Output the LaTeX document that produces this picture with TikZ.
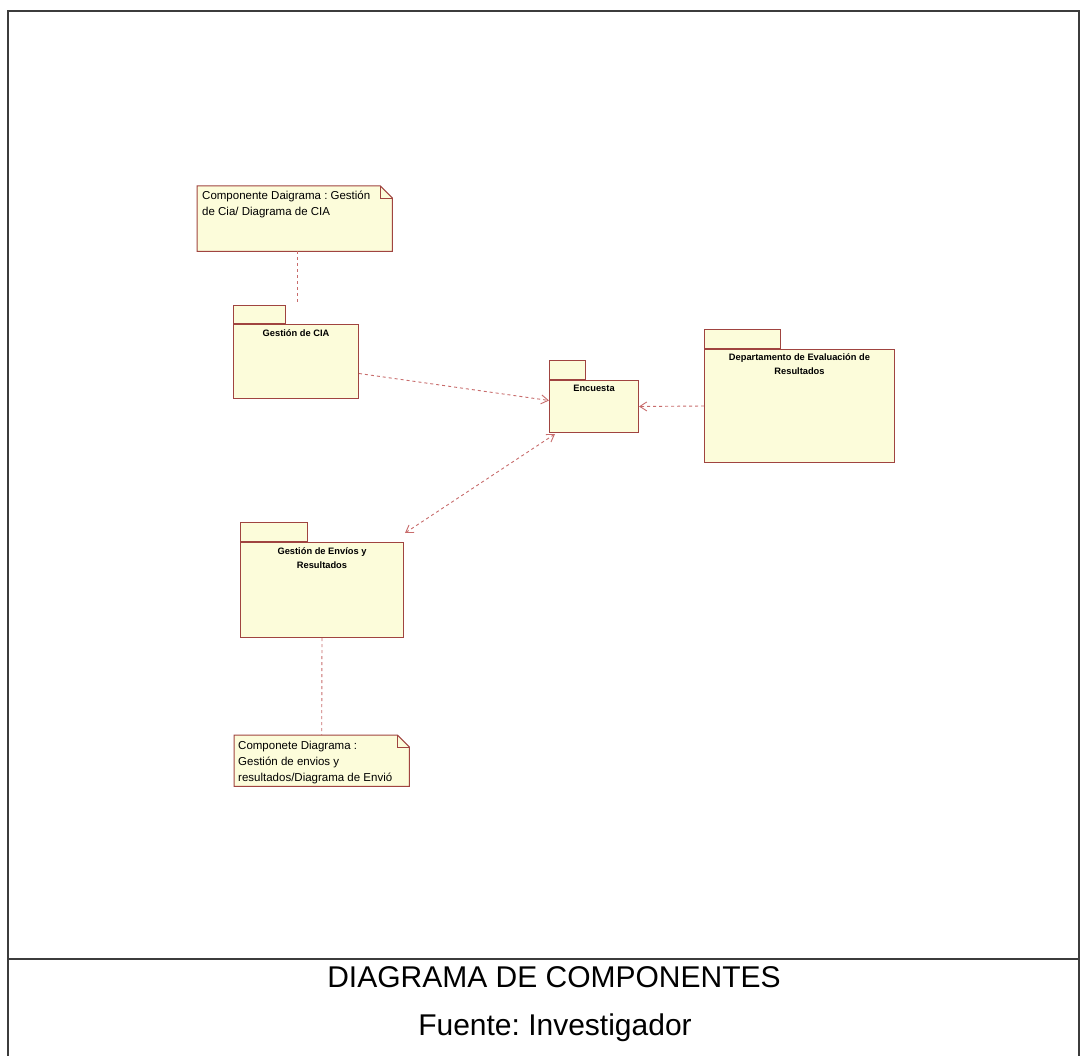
\documentclass[tikz,border=0pt]{standalone}
\usepackage{fontspec}
\setmainfont{Liberation Sans}
\usetikzlibrary{arrows.meta,calc}
\frenchspacing

\definecolor{boxline}{RGB}{160,68,64}
\definecolor{boxfill}{RGB}{252,252,218}
\definecolor{depline}{RGB}{200,108,108}
\definecolor{frameline}{RGB}{60,60,60}

\tikzset{
  pkgbody/.style={draw=boxline, fill=boxfill, line width=1pt, inner sep=0pt, anchor=north west},
  pkgtab/.style={draw=boxline, fill=boxfill, line width=1pt, inner sep=0pt, anchor=south west},
  pkglabel/.style={anchor=north, align=center, font=\fontsize{9.3}{14}\selectfont\bfseries, inner sep=0pt},
  notebox/.style={inner sep=0pt, anchor=north west},
  notetext/.style={anchor=north west, align=left, font=\fontsize{11.5}{16}\selectfont, inner sep=0pt},
  noteshape/.style={draw=boxline, fill=boxfill, line width=1pt},
  anchorline/.style={draw=depline, line width=0.9pt, dash pattern=on 3pt off 3pt},
  dependency/.style={draw=depline, line width=0.9pt, dash pattern=on 3pt off 3pt,
    -{Straight Barb[length=7pt,width=9pt]}},
  bidependency/.style={draw=depline, line width=0.9pt, dash pattern=on 3pt off 3pt,
    {Straight Barb[length=7pt,width=9pt]}-{Straight Barb[length=7pt,width=9pt]}},
  framestyle/.style={draw=frameline, line width=1.4pt},
  caption/.style={font=\fontsize{30}{34}\selectfont, inner sep=0pt}
}

\begin{document}
\begin{tikzpicture}[x=1pt,y=-1pt]
\useasboundingbox (0,0) rectangle (1081,1056);
\fill[white] (0,0) rectangle (1081,1056);

% outer frame and caption divider
\draw[framestyle] (8,1058) -- (8,11) -- (1079,11) -- (1079,1058);
\draw[frameline, line width=1.1pt] (8,959) -- (1079,959);

% note: Gestion de CIA
\node[notebox, minimum width=195pt, minimum height=65pt] (n1) at (197,186) {};
\path[noteshape] (n1.north west) -- ($(n1.north east)+(-12,0)$) -- ($(n1.north east)+(0,12)$)
  -- (n1.south east) -- (n1.south west) -- cycle;
\draw[boxline, line width=0.9pt] ($(n1.north east)+(-12,0)$) -- ($(n1.north east)+(-12,12)$) -- ($(n1.north east)+(0,12)$);
\node[notetext] (n1t) at ($(n1.north west)+(5,5)$) {Componente Daigrama : Gestión\\de Cia/ Diagrama de CIA};

% note: Gestion de envios
\node[notebox, minimum width=175pt, minimum height=51pt] (n2) at (234,735) {};
\path[noteshape] (n2.north west) -- ($(n2.north east)+(-12,0)$) -- ($(n2.north east)+(0,12)$)
  -- (n2.south east) -- (n2.south west) -- cycle;
\draw[boxline, line width=0.9pt] ($(n2.north east)+(-12,0)$) -- ($(n2.north east)+(-12,12)$) -- ($(n2.north east)+(0,12)$);
\node[notetext] (n2t) at ($(n2.north west)+(4,6)$) {Componete Diagrama :\\Gestión de envios y\\resultados/Diagrama de Envió};

% package: Gestion de CIA
\node[pkgbody, minimum width=125pt, minimum height=74pt] (pc) at (233,324) {};
\node[pkgtab, minimum width=52pt, minimum height=18pt] (pct) at (pc.north west) {};
\node[pkglabel] (pcl) at ($(pc.north)+(0,5)$) {Gestión de CIA};

% package: Encuesta
\node[pkgbody, minimum width=89pt, minimum height=52pt] (pen) at (549,380) {};
\node[pkgtab, minimum width=36pt, minimum height=19pt] (pent) at (pen.north west) {};
\node[pkglabel] (penl) at ($(pen.north)+(0,5)$) {Encuesta};

% package: Departamento de Evaluacion de Resultados
\node[pkgbody, minimum width=190pt, minimum height=113pt] (pd) at (704,349) {};
\node[pkgtab, minimum width=76pt, minimum height=19pt] (pdt) at (pd.north west) {};
\node[pkglabel] (pdl) at ($(pd.north)+(0,4)$) {Departamento de Evaluación de\\Resultados};

% package: Gestion de Envios y Resultados
\node[pkgbody, minimum width=163pt, minimum height=95pt] (pe) at (240,542) {};
\node[pkgtab, minimum width=67pt, minimum height=19pt] (pet) at (pe.north west) {};
\node[pkglabel] (pel) at ($(pe.north)+(0,5)$) {Gestión de Envíos y\\Resultados};

% note anchors
\coordinate (c1) at (297,302);
\draw[anchorline] (n1.south -| c1) -- (c1);
\draw[anchorline] (pe.south) -- (n2.north);

% dependencies
\draw[dependency] ($(pc.east)+(0,12)$) -- ($(pen.west)+(0,-6)$);
\draw[dependency] (pd.west) -- (pen.east);
\draw[bidependency] ($(pen.south west)+(6,1)$) -- ($(pe.north east)+(1,-9)$);

% caption
\node[caption] (title) at (554,977) {DIAGRAMA DE COMPONENTES};
\node[caption] (source) at (555,1028) {Fuente: Investigador};
\end{tikzpicture}
\end{document}
